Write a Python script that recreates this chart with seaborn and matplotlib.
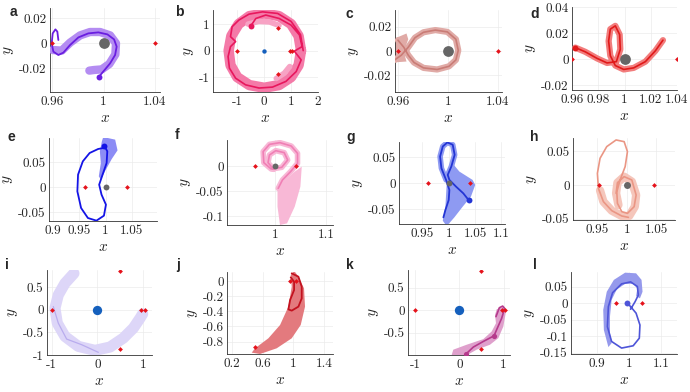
import matplotlib
matplotlib.use("Agg")
import matplotlib.pyplot as plt
import seaborn as sns
import pandas as pd

# ---- data (rotating frame, x/y) ----
L_NEAR = [(0.96, 0.0), (1.04, 0.0)]
L_NEAR_H = [(0.953, 0.0), (1.047, 0.0)]
L_ALL = [(-1.0, 0.0), (0.5, 0.866), (0.5, -0.866), (0.96, 0.0), (1.04, 0.0)]
MOON = (1.0, 0.0)
EARTH = (0.0, 0.0)

A_BAND = [(0.9605, -0.0056), (0.9675, -0.0061), (0.9740, 0.0003), (0.9818, 0.0061),
          (0.9895, 0.0088), (0.9973, 0.0088), (1.0051, 0.0061), (1.0097, -0.0003),
          (1.0092, -0.0091), (1.0045, -0.0168), (0.9986, -0.0211), (0.9926, -0.0216),
          (0.9890, -0.0221)]
A_LINE = [(0.9649, 0.0024), (0.9641, 0.0091), (0.9626, 0.0109), (0.9605, 0.0077),
          (0.9597, -0.0003), (0.9610, -0.0069), (0.9649, -0.0096), (0.9688, -0.0077),
          (0.9740, -0.0016), (0.9805, 0.0045), (0.9882, 0.0077), (0.9960, 0.0085),
          (1.0030, 0.0069), (1.0082, 0.0029), (1.0102, -0.0029), (1.0090, -0.0096),
          (1.0051, -0.0163), (1.0004, -0.0221), (0.9965, -0.0269)]

B_BAND = [(1.37, 0.0), (1.28, 0.55), (1.0, 1.0), (0.55, 1.3), (0.0, 1.4), (-0.55, 1.3),
          (-0.95, 1.0), (-1.22, 0.55), (-1.32, 0.0), (-1.25, -0.55), (-1.0, -1.0),
          (-0.55, -1.3), (0.0, -1.4), (0.55, -1.3), (1.0, -1.0), (1.28, -0.55), (1.37, 0.0)]
B_COMB_TOP = [(-0.6, 1.0), (-0.2, 1.1), (0.2, 1.08), (0.55, 0.95)]
B_COMB_BOT = [(0.45, -1.05), (0.75, -0.85), (0.95, -0.6)]
B_LINE = [(-0.5, 0.925), (-0.31, 1.21), (0.06, 1.34), (0.56, 1.21), (1.0, 0.96),
          (1.31, 0.59), (1.41, 0.15), (1.12, -0.02), (1.375, -0.35), (1.19, -0.79),
          (0.81, -1.16), (0.31, -1.375), (-0.19, -1.41), (-0.69, -1.29), (-1.06, -1.04),
          (-1.29, -0.66), (-1.34, -0.225), (-1.25, 0.15), (-1.06, 0.34), (-1.25, 0.525),
          (-1.19, 0.9), (-0.94, 1.15), (-0.56, 1.375), (-0.06, 1.46), (0.5, 1.4),
          (1.0, 1.1), (1.35, 0.6), (1.45, 0.0)]

C_FAN = [(0.9559, 0.0096), (0.9668, 0.0143), (0.9682, 0.0096), (0.9646, -0.0008),
         (0.9668, -0.0086), (0.9559, -0.0094)]
C_LINE = [(0.9573, -0.0073), (0.9627, -0.0034), (0.9682, 0.0031), (0.9736, 0.0109),
          (0.9804, 0.0153), (0.9899, 0.0171), (0.9995, 0.0156), (1.0063, 0.0096),
          (1.0082, 0.0005), (1.0063, -0.0073), (1.0008, -0.0125), (0.9913, -0.0151),
          (0.9804, -0.0138), (0.9728, -0.0094), (0.9682, -0.0034), (0.9646, 0.0031),
          (0.9600, 0.0088)]

D_LINE = [(0.9625, 0.0088), (0.9702, 0.0055), (0.9791, 0.0005), (0.9867, -0.0030),
          (0.9938, -0.0020), (0.9968, 0.0075), (0.9963, 0.0188), (0.9930, 0.0255),
          (0.9892, 0.0230), (0.9879, 0.0138), (0.9892, 0.0025), (0.9930, -0.0050),
          (0.9994, -0.0080), (1.0070, -0.0068), (1.0159, -0.0020), (1.0235, 0.0063),
          (1.0293, 0.0145)]

E_BAND = [(0.9955, 0.1000), (1.0182, 0.0947), (1.0227, 0.0733), (1.0117, 0.0560),
          (0.9987, 0.0313), (0.9909, 0.0147), (0.9870, 0.0213), (0.9909, 0.0480),
          (0.9890, 0.0713), (0.9929, 0.0913)]
E_LINE = [(0.9974, 0.0827), (1.0032, 0.0713), (1.0019, 0.0480), (0.9942, 0.0247),
          (0.9877, 0.0047), (0.9922, -0.0153), (1.0006, -0.0353), (0.9968, -0.0573),
          (0.9825, -0.0673), (0.9662, -0.0620), (0.9532, -0.0420), (0.9461, -0.0087),
          (0.9474, 0.0247), (0.9565, 0.0513), (0.9695, 0.0680), (0.9857, 0.0760),
          (0.9955, 0.0780)]

F_FAN = [(1.0041, -0.0427), (1.0379, -0.0113), (1.0517, -0.0013), (1.0490, -0.0413),
         (1.0379, -0.0813), (1.0228, -0.1147), (1.0090, -0.1180), (1.0041, -0.0813)]
F_LINE = [(1.0055, -0.0447), (1.0138, -0.0280), (1.0297, -0.0113), (1.0434, 0.0053),
          (1.0434, 0.0253), (1.0310, 0.0400), (1.0090, 0.0467), (0.9883, 0.0433),
          (0.9759, 0.0287), (0.9772, 0.0067), (0.9917, -0.0060), (1.0124, -0.0027),
          (1.0241, 0.0120), (1.0172, 0.0267), (1.0007, 0.0307), (0.9883, 0.0220),
          (0.9855, 0.0067), (0.9966, -0.0067)]

G_FAN = [(1.0044, 0.0422), (1.0202, 0.0227), (1.0454, 0.0065), (1.0504, -0.0032),
         (1.0422, -0.0260), (1.0265, -0.0455), (1.0107, -0.0662), (0.9962, -0.0831),
         (0.9887, -0.0727), (0.9937, -0.0455), (0.9962, 0.0)]
G_LINE = [(0.9899, -0.0662), (0.9937, -0.0519), (1.0000, -0.0325), (1.0013, -0.0130),
          (0.9950, 0.0065), (0.9861, 0.0292), (0.9836, 0.0519), (0.9887, 0.0714),
          (0.9975, 0.0792), (1.0076, 0.0747), (1.0113, 0.0552), (1.0050, 0.0325),
          (0.9981, 0.0162), (1.0013, 0.0065), (1.0139, -0.0065), (1.0277, -0.0195),
          (1.0378, -0.0325)]

H_BAND = [(0.9545, -0.0080), (0.9602, -0.0246), (0.9744, -0.0379), (0.9915, -0.0458),
          (1.0040, -0.0458), (1.0136, -0.0320), (1.0159, -0.0148), (1.0085, 0.0050),
          (0.9955, 0.0123), (0.9841, 0.0034), (0.9818, -0.0123), (0.9858, -0.0295)]
H_LINE = [(1.0028, -0.0478), (0.9915, -0.0458), (0.9744, -0.0379), (0.9602, -0.0246),
          (0.9517, -0.0049), (0.9500, 0.0172), (0.9545, 0.0394), (0.9659, 0.0567),
          (0.9818, 0.0665), (0.9955, 0.0640), (1.0011, 0.0493), (0.9972, 0.0271),
          (0.9886, 0.0074), (0.9830, -0.0099), (0.9841, -0.0271), (0.9915, -0.0394),
          (1.0011, -0.0419), (1.0125, -0.0320), (1.0159, -0.0148), (1.0085, 0.0074),
          (0.9955, 0.0123), (0.9841, 0.0034), (0.9818, -0.0123)]

I_BAND = [(-0.513, 0.809), (-0.711, 0.588), (-0.857, 0.331), (-0.930, 0.037),
          (-0.879, -0.294), (-0.711, -0.588), (-0.418, -0.809), (-0.051, -0.897),
          (0.278, -0.824), (0.571, -0.625), (0.791, -0.404), (0.938, -0.184),
          (0.996, -0.088)]
I_LINE = [(-0.967, 0.074), (-0.857, -0.294), (-0.674, -0.647), (-0.344, -0.772),
          (0.022, -0.941)]

J_BAND = [(0.966, 0.079), (0.979, -0.075), (0.936, -0.338), (0.828, -0.580),
          (0.676, -0.756), (0.503, -0.888), (0.460, -0.945), (0.568, -0.963),
          (0.784, -0.888), (0.979, -0.756), (1.096, -0.580), (1.152, -0.338),
          (1.139, -0.097), (1.066, 0.057), (1.010, 0.136)]
J_LINE = [(0.979, 0.101), (1.066, 0.057), (1.109, -0.075), (1.109, -0.229),
          (1.066, -0.338), (0.979, -0.391), (0.936, -0.374), (0.958, -0.251),
          (1.010, -0.119), (1.010, -0.009), (0.966, 0.048)]

K_BAND = [(0.845, 0.015), (0.996, 0.074), (1.049, -0.074), (0.996, -0.368),
          (0.883, -0.625), (0.694, -0.772), (0.392, -0.882), (0.166, -1.007),
          (-0.174, -1.007), (-0.136, -0.882), (0.166, -0.772), (0.543, -0.647),
          (0.732, -0.478), (0.830, -0.294), (0.808, -0.110)]
K_LINE = [(0.830, -0.147), (0.906, 0.051), (0.981, 0.088), (1.026, 0.037),
          (0.958, -0.184), (0.860, -0.404), (0.785, -0.574), (0.543, -0.699),
          (0.317, -0.824), (0.151, -0.978)]

L_BAND = [(0.936, -0.133), (0.922, -0.081), (0.920, -0.020), (0.931, 0.035),
          (0.953, 0.071), (0.988, 0.093), (1.022, 0.091), (1.039, 0.071),
          (1.042, 0.035), (1.034, 0.015), (1.022, 0.022), (1.026, 0.045),
          (1.013, 0.059), (0.988, 0.059), (0.962, 0.042), (0.946, 0.010),
          (0.941, -0.040), (0.941, -0.091), (0.946, -0.121)]
L_LINE = [(0.995, 0.0), (1.005, -0.010), (1.022, -0.030), (1.034, -0.066),
          (1.032, -0.106), (1.013, -0.129), (0.977, -0.136), (0.946, -0.116),
          (0.933, -0.071), (0.936, -0.010), (0.949, 0.032), (0.977, 0.059),
          (1.005, 0.065), (1.026, 0.051), (1.029, 0.025), (1.019, 0.005),
          (1.005, -0.018)]

# ---- layout: axes box in figure pixels (left, top, right, bottom), limits, ticks ----
W, H = 690, 392
PANELS = {
    "a": dict(box=(50, 8, 160, 92), xlim=(0.9584, 1.0439), ylim=(-0.0392, 0.028),
              xt=[0.96, 1, 1.04], yt=[-0.02, 0, 0.02], band="#b48cf2", line="#6a1ee0"),
    "b": dict(box=(213, 10, 318, 92), xlim=(-1.9, 2.0), ylim=(-1.56, 1.53),
              xt=[-1, 0, 1, 2], yt=[-1, 0, 1], band="#f47aa8", line="#e8175d"),
    "c": dict(box=(395, 10, 502, 92), xlim=(0.9576, 1.0432), ylim=(-0.0335, 0.0335),
              xt=[0.96, 1, 1.04], yt=[-0.02, 0, 0.02], band="#e0aaa6", line="#c97c76"),
    "d": dict(box=(572, 7, 677, 90), xlim=(0.96, 1.04), ylim=(-0.0238, 0.04),
              xt=[0.96, 0.98, 1, 1.02, 1.04], yt=[-0.02, 0, 0.02, 0.04],
              band="#f27c7c", line="#e01a1a"),
    "e": dict(box=(49, 138, 157, 221), xlim=(0.892, 1.098), ylim=(-0.068, 0.098),
              xt=[0.9, 0.95, 1, 1.05], yt=[-0.05, 0, 0.05], band="#8c8cf5", line="#1414e6"),
    "f": dict(box=(227, 140, 333, 225), xlim=(0.905, 1.113), ylim=(-0.118, 0.052),
              xt=[1, 1.1], yt=[-0.1, -0.05, 0], band="#f8b8d6", line="#f07fb5"),
    "g": dict(box=(399, 142, 505, 224), xlim=(0.9055, 1.107), ylim=(-0.079, 0.080),
              xt=[0.95, 1, 1.05, 1.1], yt=[-0.05, 0, 0.05], band="#8e9af2", line="#2335d4"),
    "h": dict(box=(573, 138, 675, 220), xlim=(0.9085, 1.082), ylim=(-0.0517, 0.0694),
              xt=[0.95, 1, 1.05], yt=[-0.05, 0, 0.05], band="#f5c6bb", line="#ea9684"),
    "i": dict(box=(47, 270, 152, 355), xlim=(-1.105, 1.2), ylim=(-1.0, 0.883),
              xt=[-1, 0, 1], yt=[-1, -0.5, 0, 0.5], band="#ddd6f8", line="#b9acee"),
    "j": dict(box=(227, 272, 333, 354), xlim=(0.139, 1.515), ylim=(-0.963, 0.119),
              xt=[0.2, 0.6, 1, 1.4], yt=[-0.8, -0.6, -0.4, -0.2, 0],
              band="#e37a7e", line="#c3121f"),
    "k": dict(box=(408, 270, 510, 355), xlim=(-1.16, 1.147), ylim=(-1.0, 0.89),
              xt=[-1, 0, 1], yt=[-0.5, 0, 0.5], band="#dfa0cc", line="#b53a8c"),
    "l": dict(box=(571, 272, 677, 354), xlim=(0.82, 1.149), ylim=(-0.154, 0.095),
              xt=[0.9, 1, 1.1], yt=[-0.15, -0.1, -0.05, 0, 0.05],
              band="#9599ec", line="#4e55d8"),
}
LETTER_POS = {"a": (10, 12), "b": (175, 12), "c": (345, 14), "d": (530, 14),
              "e": (8, 137), "f": (175, 135), "g": (346, 137), "h": (530, 137),
              "i": (5, 265), "j": (176, 265), "k": (346, 265), "l": (533, 265)}

sns.set_style("white")
plt.rcParams["mathtext.fontset"] = "cm"
plt.rcParams["font.family"] = ["DejaVu Sans"]


def trace(ax, pts, color, lw, z=3):
    df = pd.DataFrame(pts, columns=["x", "y"])
    sns.lineplot(data=df, x="x", y="y", sort=False, estimator=None, color=color,
                 lw=lw, ax=ax, legend=False, solid_capstyle="round",
                 solid_joinstyle="round", zorder=z)


def patch(ax, pts, color, z=2):
    xs, ys = zip(*pts)
    ax.fill(xs, ys, color=color, lw=0, zorder=z)


def dots(ax, pts, color, s, marker="o", z=6):
    df = pd.DataFrame(pts, columns=["x", "y"])
    sns.scatterplot(data=df, x="x", y="y", color=color, s=s, marker=marker,
                    linewidth=0, ax=ax, legend=False, zorder=z)


def fmt(v):
    return "{:g}".format(v)


fig = plt.figure(figsize=(6.9, 3.92), dpi=100)
axes = {}
for key, p in PANELS.items():
    l, t, r, b = p["box"]
    ax = fig.add_axes([l / W, 1 - b / H, (r - l) / W, (b - t) / H])
    axes[key] = ax

RED = "#e5121b"
GREY = "#666666"
BLUE = "#1560bd"

# a
ax, p = axes["a"], PANELS["a"]
trace(ax, A_BAND, p["band"], 6)
trace(ax, A_LINE, p["line"], 1.3)
dots(ax, [A_LINE[-1]], p["line"], 18)
dots(ax, [MOON], GREY, 60, z=5)
dots(ax, L_NEAR, RED, 6, "D")

# b
ax, p = axes["b"], PANELS["b"]
trace(ax, B_BAND, p["band"], 7.5)
trace(ax, B_COMB_TOP, "#f7a3c4", 4)
trace(ax, B_COMB_BOT, "#f7a3c4", 4)
trace(ax, B_LINE, p["line"], 1.2)
dots(ax, [B_LINE[0]], p["line"], 18)
dots(ax, [EARTH], BLUE, 10, z=5)
dots(ax, L_ALL, RED, 6, "D")

# c
ax, p = axes["c"], PANELS["c"]
patch(ax, C_FAN, p["band"])
trace(ax, C_LINE, p["band"], 4.5)
trace(ax, C_LINE, p["line"], 1.2)
dots(ax, [MOON], GREY, 60, z=5)
dots(ax, L_NEAR, RED, 6, "D")

# d
ax, p = axes["d"], PANELS["d"]
trace(ax, D_LINE, p["band"], 4.5)
trace(ax, D_LINE, p["line"], 1.2)
dots(ax, [D_LINE[0]], p["line"], 18)
dots(ax, [MOON], GREY, 60, z=5)
dots(ax, L_NEAR, RED, 6, "D")

# e
ax, p = axes["e"], PANELS["e"]
patch(ax, E_BAND, p["band"])
trace(ax, E_LINE, p["line"], 1.3)
dots(ax, [E_LINE[0]], p["line"], 18)
dots(ax, [MOON], GREY, 18, z=5)
dots(ax, L_NEAR, RED, 6, "D")

# f
ax, p = axes["f"], PANELS["f"]
patch(ax, F_FAN, p["band"])
trace(ax, F_LINE, p["band"], 4)
trace(ax, F_LINE, p["line"], 1.2)
dots(ax, [MOON], GREY, 18, z=5)
dots(ax, L_NEAR, RED, 6, "D")

# g
ax, p = axes["g"], PANELS["g"]
patch(ax, G_FAN, p["band"])
trace(ax, G_LINE[4:13], p["band"], 4)
trace(ax, G_LINE, p["line"], 1.3)
dots(ax, [G_LINE[-1]], p["line"], 18)
dots(ax, [MOON], GREY, 18, z=5)
dots(ax, L_NEAR, RED, 6, "D")

# h
ax, p = axes["h"], PANELS["h"]
trace(ax, H_BAND, p["band"], 6)
trace(ax, H_LINE, p["line"], 1.2)
dots(ax, [MOON], GREY, 25, z=5)
dots(ax, L_NEAR_H, RED, 6, "D")

# i
ax, p = axes["i"], PANELS["i"]
trace(ax, I_BAND, p["band"], 8)
trace(ax, I_LINE, p["line"], 0.9)
dots(ax, [EARTH], BLUE, 45, z=5)
dots(ax, L_ALL, RED, 6, "D")

# j
ax, p = axes["j"], PANELS["j"]
patch(ax, J_BAND, p["band"])
trace(ax, J_LINE, p["line"], 1.3)
dots(ax, L_NEAR + [(0.5, -0.866)], RED, 6, "D")

# k
ax, p = axes["k"], PANELS["k"]
patch(ax, K_BAND, p["band"])
trace(ax, K_LINE, p["line"], 1.2)
dots(ax, [K_LINE[6], K_LINE[-1]], p["line"], 14)
dots(ax, [EARTH], BLUE, 45, z=5)
dots(ax, L_ALL, RED, 6, "D")

# l
ax, p = axes["l"], PANELS["l"]
patch(ax, L_BAND, p["band"])
trace(ax, L_LINE, p["line"], 1.2)
dots(ax, [L_LINE[0]], p["line"], 18)
dots(ax, L_NEAR, RED, 6, "D")

for key, ax in axes.items():
    p = PANELS[key]
    ax.set_xlim(*p["xlim"])
    ax.set_ylim(*p["ylim"])
    ax.set_xticks(p["xt"])
    ax.set_yticks(p["yt"])
    ax.set_xticklabels([fmt(v) for v in p["xt"]], fontfamily="cmr10", fontsize=9.5)
    ax.set_yticklabels([fmt(v) for v in p["yt"]], fontfamily="cmr10", fontsize=9.5)
    ax.tick_params(direction="in", length=2, width=0.5, color="#333333", pad=2.5)
    ax.grid(True, color="#ebebeb", lw=0.5)
    ax.set_axisbelow(True)
    for side in ("top", "right"):
        ax.spines[side].set_visible(False)
    for side in ("left", "bottom"):
        ax.spines[side].set_color("#333333")
        ax.spines[side].set_linewidth(0.6)
    ax.set_xlabel("$x$", fontsize=11, labelpad=2)
    ax.set_ylabel("$y$", fontsize=11, labelpad=2)
    lx, ly = LETTER_POS[key]
    fig.text(lx / W, 1 - ly / H, key, fontsize=10, fontweight="bold",
             family="Liberation Sans", ha="left", va="center")

fig.savefig("out.png", dpi=100)
